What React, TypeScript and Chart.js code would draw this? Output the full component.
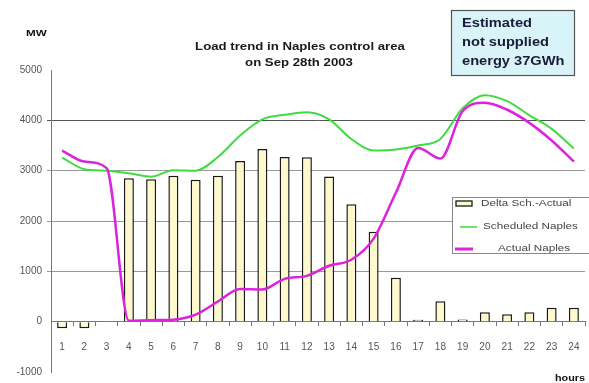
import React, { useEffect, useRef } from 'react';
import { Chart, registerables } from 'chart.js';

Chart.register(...registerables);

const hours = ['1','2','3','4','5','6','7','8','9','10','11','12','13','14','15','16','17','18','19','20','21','22','23','24'];
const deltaSchActual = [-130, -130, 15, 2850, 2830, 2900, 2820, 2900, 3190, 3430, 3270, 3265, 2885, 2335, 1785, 875, 40, 405, 45, 185, 145, 185, 275, 275];
const scheduledNaples = [3260, 3030, 3000, 2950, 2880, 3010, 3000, 3270, 3700, 4020, 4110, 4160, 4020, 3630, 3400, 3420, 3500, 3630, 4240, 4500, 4380, 4100, 3830, 3440];
const actualNaples = [3400, 3180, 3050, 20, 30, 40, 140, 400, 650, 640, 850, 910, 1110, 1230, 1650, 2560, 3450, 3240, 4180, 4350, 4210, 3950, 3600, 3180];
const yTicks = [-1000, 0, 1000, 2000, 3000, 4000, 5000];

const titleLines = ['Load trend in Naples control area', 'on Sep 28th 2003'];
const noteLines = ['Estimated', 'not supplied', 'energy 37GWh'];
const legendLabels = ['Delta Sch.-Actual', 'Scheduled Naples', 'Actual Naples'];

const BAR_FILL = '#fdf9cc';
const BAR_BORDER = '#1a1a1a';
const GREEN = '#3fdc3f';
const MAGENTA = '#dd22dd';
const FONT = '"Liberation Sans", Arial, sans-serif';

function stretchText(ctx: CanvasRenderingContext2D, text: string, x: number, y: number, sx: number, align: 'left' | 'center') {
  ctx.save();
  ctx.translate(x, y);
  ctx.scale(sx, 1);
  ctx.textAlign = align;
  ctx.fillText(text, 0, 0);
  ctx.restore();
}

const overlay = {
  id: 'overlay',
  afterDraw(chart: any) {
    const ctx = chart.ctx as CanvasRenderingContext2D;
    ctx.save();
    ctx.textBaseline = 'middle';
    ctx.fillStyle = '#111';
    ctx.font = `bold 9px ${FONT}`;
    stretchText(ctx, 'MW', 26, 34, 1.3, 'left');
    stretchText(ctx, 'hours', 555, 379, 1.2, 'left');

    ctx.font = `bold 11px ${FONT}`;
    ctx.fillStyle = '#1a1a1a';
    stretchText(ctx, titleLines[0], 300, 47, 1.2, 'center');
    stretchText(ctx, titleLines[1], 299, 63, 1.2, 'center');

    ctx.fillStyle = '#d8f4f8';
    ctx.fillRect(451, 10, 123, 65);
    ctx.strokeStyle = '#555';
    ctx.lineWidth = 1.2;
    ctx.strokeRect(451.5, 10.5, 123, 65);
    ctx.fillStyle = '#1a1a3a';
    ctx.font = `bold 12px ${FONT}`;
    noteLines.forEach((t, i) => stretchText(ctx, t, 462, 24 + i * 19, 1.22, 'left'));

    ctx.fillStyle = '#ffffff';
    ctx.fillRect(452, 197, 140, 57);
    ctx.strokeStyle = '#888';
    ctx.lineWidth = 1;
    ctx.strokeRect(452.5, 197.5, 140, 56);
    ctx.font = `9px ${FONT}`;
    ctx.fillStyle = BAR_FILL;
    ctx.fillRect(456, 201, 16, 5);
    ctx.strokeStyle = BAR_BORDER;
    ctx.lineWidth = 1.3;
    ctx.strokeRect(456, 201, 16, 5);
    ctx.fillStyle = '#444';
    stretchText(ctx, legendLabels[0], 481, 204, 1.3, 'left');
    ctx.strokeStyle = GREEN;
    ctx.lineWidth = 1.5;
    ctx.beginPath();
    ctx.moveTo(460, 227);
    ctx.lineTo(477, 227);
    ctx.stroke();
    stretchText(ctx, legendLabels[1], 483, 227, 1.3, 'left');
    ctx.strokeStyle = MAGENTA;
    ctx.lineWidth = 3;
    ctx.beginPath();
    ctx.moveTo(455, 249);
    ctx.lineTo(473, 249);
    ctx.stroke();
    stretchText(ctx, legendLabels[2], 498, 249, 1.3, 'left');
    ctx.restore();
  },
};

export default function App() {
  const ref = useRef<HTMLCanvasElement | null>(null);
  useEffect(() => {
    if (!ref.current) return;
    const chart = new Chart(ref.current, {
      type: 'bar',
      data: {
        labels: hours,
        datasets: [
          {
            type: 'bar',
            label: legendLabels[0],
            data: deltaSchActual,
            backgroundColor: BAR_FILL,
            borderColor: BAR_BORDER,
            borderWidth: 1.5,
            barPercentage: 0.45,
            categoryPercentage: 1,
            order: 3,
          },
          {
            type: 'line',
            label: legendLabels[1],
            data: scheduledNaples,
            borderColor: GREEN,
            borderWidth: 2,
            pointRadius: 0,
            cubicInterpolationMode: 'monotone',
            fill: false,
            order: 2,
          },
          {
            type: 'line',
            label: legendLabels[2],
            data: actualNaples,
            borderColor: MAGENTA,
            borderWidth: 2.5,
            pointRadius: 0,
            cubicInterpolationMode: 'monotone',
            fill: false,
            order: 1,
          },
        ] as any,
      },
      options: {
        animation: false,
        responsive: false,
        layout: { padding: { top: 70, left: 0, right: 4, bottom: 5 } },
        plugins: {
          legend: { display: false },
          title: { display: false },
          tooltip: { enabled: false },
        },
        scales: {
          x: {
            position: { y: 0 } as any,
            offset: true,
            afterFit: (s: any) => { s.paddingLeft = 0; s.paddingRight = 0; },
            grid: {
              display: true,
              drawOnChartArea: false,
              drawTicks: true,
              tickLength: 4,
              color: '#777',
              offset: true,
            },
            border: { display: true, color: '#777', width: 1 },
            ticks: {
              color: '#555',
              font: { size: 10, family: FONT },
              padding: 16,
              maxRotation: 0,
              autoSkip: false,
            },
          },
          y: {
            min: -1000,
            max: 5000,
            afterFit: (s: any) => { s.width = 51; },
            afterBuildTicks: (s: any) => { s.ticks = yTicks.map((v) => ({ value: v })); },
            grid: {
              drawTicks: true,
              tickLength: 4,
              color: (c: any) => {
                const v = c.tick ? c.tick.value : 0;
                if (v === 4000) return '#555';
                if (v >= 1000 && v <= 3000) return '#999';
                return 'rgba(0,0,0,0)';
              },
              lineWidth: 1,
            },
            border: { display: true, color: '#777', width: 1 },
            ticks: {
              color: '#555',
              font: { size: 10, family: FONT },
              padding: 5,
              callback: (v: any) => String(v),
            },
          },
        },
      },
      plugins: [overlay],
    });
    return () => chart.destroy();
  }, []);
  return (
    <div style={{ position: 'fixed', left: 0, top: 0, width: 589, height: 383, background: '#fff' }}>
      <canvas ref={ref} width={589} height={383} style={{ width: 589, height: 383, display: 'block' }} />
    </div>
  );
}
